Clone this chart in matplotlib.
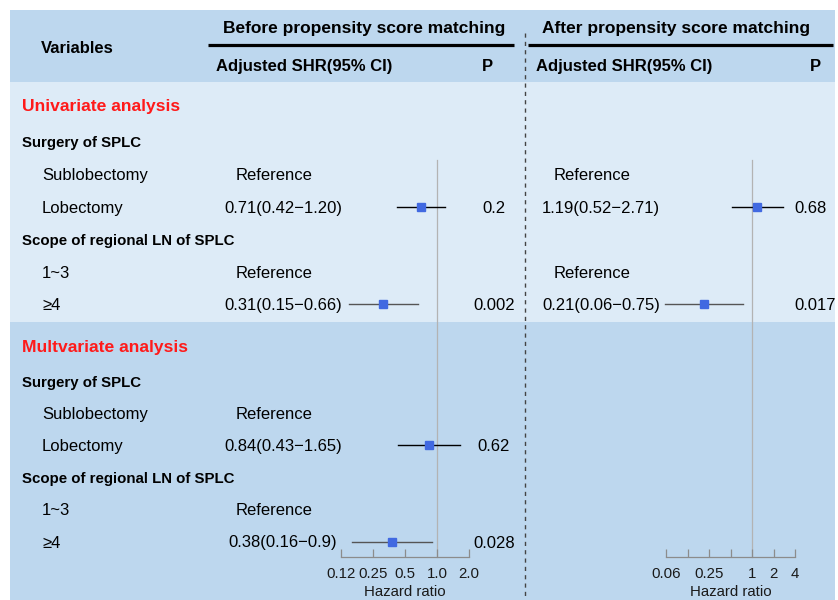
import matplotlib
matplotlib.use("Agg")
import matplotlib.pyplot as plt
from matplotlib.patches import Rectangle
from matplotlib.ticker import NullLocator, FixedLocator, FixedFormatter

plt.rcParams["font.family"] = ["Liberation Sans", "DejaVu Sans"]

# ---- table content -------------------------------------------------------
section_titles = ["Univariate analysis", "Multvariate analysis"]
row_labels = ["Surgery of SPLC", "Sublobectomy", "Lobectomy",
              "Scope of regional LN of SPLC", "1~3", "\u22654"]
row_is_group = [True, False, False, True, False, False]
reference_rows = [1, 4]
estimate_rows = [2, 5]

# hazard ratio (lower, upper) as printed, one tuple per estimate row
before_uni = [("0.71", "0.42", "1.20"), ("0.31", "0.15", "0.66")]
before_uni_p = ["0.2", "0.002"]
after_uni = [("1.19", "0.52", "2.71"), ("0.21", "0.06", "0.75")]
after_uni_p = ["0.68", "0.017"]
before_multi = [("0.84", "0.43", "1.65"), ("0.38", "0.16", "0.9")]
before_multi_p = ["0.62", "0.028"]

left_ticks = [0.125, 0.25, 0.5, 1, 2]
left_ticklabels = ["0.12", "0.25", "0.5", "1.0", "2.0"]
right_ticks = [0.0625, 0.125, 0.25, 0.5, 1, 2, 4]
right_ticklabels = ["0.06", "", "0.25", "", "1", "2", "4"]

# ---- figure / pixel canvas ----------------------------------------------
W, H = 838, 600
fig = plt.figure(figsize=(W / 100, H / 100), dpi=100)
bg = fig.add_axes([0, 0, 1, 1])
bg.set_xlim(0, W)
bg.set_ylim(H, 0)
bg.axis("off")

HEAD_C = "#BDD7EE"
LIGHT_C = "#DDEBF7"
RED = "#FF1A1A"
BLUE = "#4169E1"

bg.add_patch(Rectangle((10, 10), 825, 72, color=HEAD_C, lw=0))
bg.add_patch(Rectangle((10, 82), 825, 240, color=LIGHT_C, lw=0))
bg.add_patch(Rectangle((10, 322), 825, 278, color=HEAD_C, lw=0))

# header
bg.text(77, 47, "Variables", fontsize=12, fontweight="bold",
        ha="center", va="center_baseline")
bg.text(364, 27, "Before propensity score matching", fontsize=12.5,
        fontweight="bold", ha="center", va="center_baseline")
bg.text(676, 27, "After propensity score matching", fontsize=12.5,
        fontweight="bold", ha="center", va="center_baseline")
bg.plot([208, 514], [45, 45], color="black", lw=2.3, solid_capstyle="butt")
bg.plot([528, 833], [45, 45], color="black", lw=2.3, solid_capstyle="butt")
bg.text(216, 65, "Adjusted SHR(95% CI)", fontsize=12, fontweight="bold",
        ha="left", va="center_baseline")
bg.text(487, 65, "P", fontsize=12, fontweight="bold",
        ha="center", va="center_baseline")
bg.text(536, 65, "Adjusted SHR(95% CI)", fontsize=12, fontweight="bold",
        ha="left", va="center_baseline")
bg.text(815, 65, "P", fontsize=12, fontweight="bold",
        ha="center", va="center_baseline")

# vertical dashed separator
bg.plot([525, 525], [33, 600], color="#444444", lw=1, ls=(0, (3, 3)))

# row layout
title_y = [105, 346]
row_y = [[142 + 32.4 * i for i in range(6)],
         [381 + 32.1 * i for i in range(6)]]

for s in range(2):
    bg.text(22, title_y[s], section_titles[s], fontsize=12.6,
            fontweight="bold", color=RED, ha="left", va="center_baseline")
    for i, lab in enumerate(row_labels):
        y = row_y[s][i]
        if row_is_group[i]:
            bg.text(22, y, lab, fontsize=10.8, fontweight="bold",
                    ha="left", va="center_baseline")
        else:
            bg.text(42, y, lab, fontsize=12, ha="left", va="center_baseline")
    for i in reference_rows:
        bg.text(274, row_y[s][i], "Reference", fontsize=12,
                ha="center", va="center_baseline")
        if s == 0:
            bg.text(592, row_y[s][i], "Reference", fontsize=12,
                    ha="center", va="center_baseline")


def est_text(t):
    return f"{t[0]}({t[1]}\u2212{t[2]})"


def forest_axes(x0, x1, ticks, ticklabels):
    ax = fig.add_axes([x0 / W, 0, (x1 - x0) / W, 1])
    ax.set_xscale("log", base=2)
    ax.set_xlim(ticks[0], ticks[-1])
    ax.set_ylim(H, 0)
    ax.patch.set_visible(False)
    for side in ["top", "left", "right"]:
        ax.spines[side].set_visible(False)
    ax.spines["bottom"].set_position(("data", 557))
    ax.spines["bottom"].set_color("#8C8C8C")
    ax.spines["bottom"].set_linewidth(0.9)
    ax.xaxis.set_major_locator(FixedLocator(ticks))
    ax.xaxis.set_major_formatter(FixedFormatter(ticklabels))
    ax.xaxis.set_minor_locator(NullLocator())
    ax.tick_params(axis="x", direction="in", length=6, width=0.9,
                   color="#8C8C8C", labelsize=10.8, pad=7,
                   labelcolor="#1A1A1A")
    ax.set_yticks([])
    ax.plot([1, 1], [160, 557], color="#B3B3B3", lw=0.9, zorder=1)
    ax.text(0.5, 590, "Hazard ratio", fontsize=10.8, ha="center",
            va="center_baseline", color="#1A1A1A",
            transform=ax.get_yaxis_transform())
    return ax


def draw_rows(ax, ys, ests):
    line_cols = ["black", "#555555"]
    for k, (t, y) in enumerate(zip(ests, ys)):
        hr, lo, hi = float(t[0]), float(t[1]), float(t[2])
        ax.plot([lo, hi], [y, y], color=line_cols[k], lw=1, zorder=2,
                clip_on=False)
        ax.plot([hr], [y], marker="s", ms=6, color=BLUE, zorder=3,
                clip_on=False)


axL = forest_axes(341, 469, left_ticks, left_ticklabels)
axR = forest_axes(666, 795, right_ticks, right_ticklabels)

# before matching: univariate + multivariate
ys_u = [row_y[0][i] for i in estimate_rows]
ys_m = [row_y[1][i] for i in estimate_rows]
draw_rows(axL, ys_u, before_uni)
draw_rows(axL, ys_m, before_multi)
draw_rows(axR, ys_u, after_uni)

for t, p, y in zip(before_uni, before_uni_p, ys_u):
    bg.text(283, y, est_text(t), fontsize=12, ha="center", va="center_baseline")
    bg.text(494, y, p, fontsize=12, ha="center", va="center_baseline")
for t, p, y in zip(before_multi, before_multi_p, ys_m):
    bg.text(283, y, est_text(t), fontsize=12, ha="center", va="center_baseline")
    bg.text(494, y, p, fontsize=12, ha="center", va="center_baseline")
for t, p, y in zip(after_uni, after_uni_p, ys_u):
    bg.text(601, y, est_text(t), fontsize=12, ha="center", va="center_baseline")
    bg.text(794, y, p, fontsize=12, ha="left", va="center_baseline")

fig.savefig("out.png", dpi=100)
